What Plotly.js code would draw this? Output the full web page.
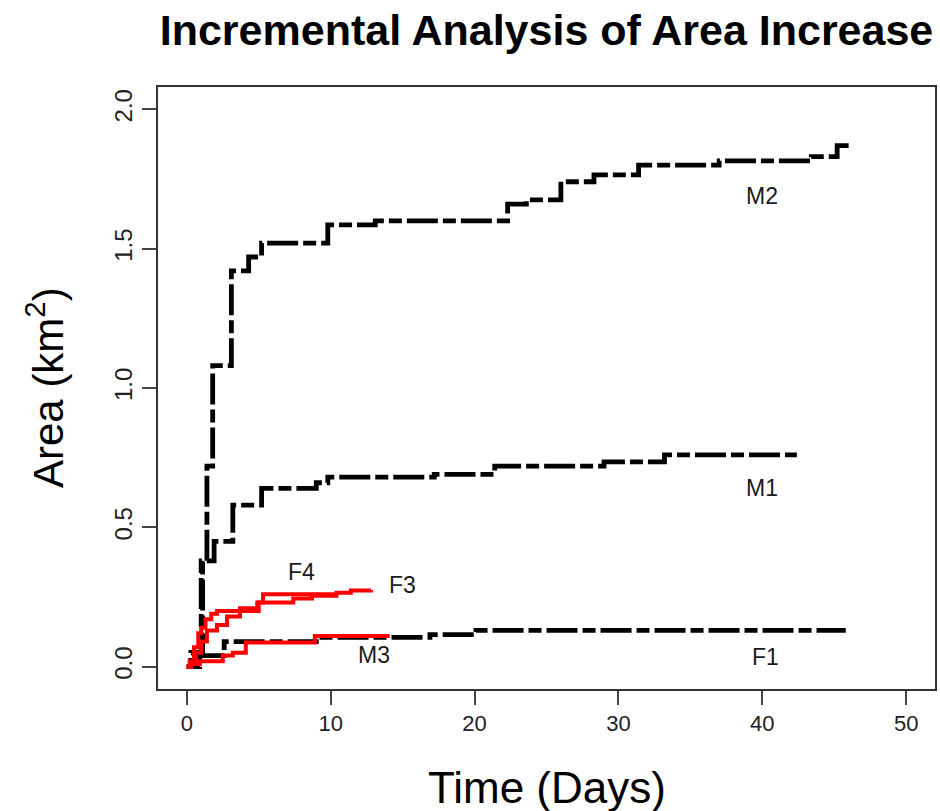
<!DOCTYPE html>
<html>
<head>
<meta charset="utf-8">
<script src="https://cdn.plot.ly/plotly-3.0.1.min.js"></script>
<style>html,body{margin:0;padding:0;background:#fff;}#chart{width:940px;height:811px;}</style>
</head>
<body>
<div id="chart"></div>
<script>
// Step data: [day at which area steps up, new cumulative area (km^2)]
const m2Days = [0, 0.3, 1.0, 1.4, 1.8, 3.1, 4.3, 5.2, 9.8, 13.1, 22.3, 23.6, 26.0, 28.3, 31.4, 37.0, 43.4, 45.2, 46.3];
const m2Area = [0, 0.05, 0.38, 0.72, 1.08, 1.42, 1.47, 1.52, 1.585, 1.60, 1.66, 1.675, 1.74, 1.765, 1.80, 1.815, 1.83, 1.87, 1.87];

const m1Days = [0, 0.3, 1.1, 1.9, 3.2, 5.2, 9.0, 9.8, 17.2, 21.4, 29.0, 33.2, 42.4];
const m1Area = [0, 0.05, 0.38, 0.45, 0.58, 0.64, 0.66, 0.68, 0.69, 0.72, 0.735, 0.76, 0.76];

const f1Days = [0, 0.9, 2.6, 9.0, 16.9, 20.1, 45.8];
const f1Area = [0, 0.04, 0.09, 0.105, 0.115, 0.13, 0.13];

const f4Days = [0, 0.2, 0.5, 0.8, 1.0, 1.3, 1.7, 2.1, 3.7, 4.9, 5.3, 10.5];
const f4Area = [0, 0.02, 0.07, 0.12, 0.14, 0.17, 0.19, 0.20, 0.21, 0.23, 0.26, 0.26];

const f3Days = [0, 0.3, 0.6, 1.0, 1.4, 2.1, 2.8, 3.7, 5.0, 7.4, 8.7, 10.4, 11.4, 12.8];
const f3Area = [0, 0.01, 0.05, 0.09, 0.13, 0.15, 0.18, 0.20, 0.23, 0.245, 0.255, 0.265, 0.273, 0.275];

const m3Days = [0, 0.3, 0.9, 2.5, 3.2, 4.1, 8.9, 14.1];
const m3Area = [0, 0.01, 0.02, 0.04, 0.05, 0.087, 0.11, 0.11];

const labelText = ["M2", "M1", "F1", "M3", "F3", "F4"];
const labelX = [40, 40, 40.2, 13, 15, 8];
const labelY = [1.69, 0.64, 0.036, 0.043, 0.294, 0.34];

const xTicks = [0, 10, 20, 30, 40, 50];
const yTicks = [0.0, 0.5, 1.0, 1.5, 2.0];
const yTickText = ["0.0", "0.5", "1.0", "1.5", "2.0"];

const titleText = "Incremental Analysis of Area Increase";
const xTitleText = "Time (Days)";
const yTitleText = "Area (km<sup>2</sup>)";

const FONT = "Liberation Sans, Arial, Helvetica, sans-serif";
const blackDash = "13px,5px,31px,5px";

function stepTrace(x, y, color, width, dash, name) {
  return {x: x, y: y, type: "scatter", mode: "lines", name: name,
          line: {shape: "hv", color: color, width: width, dash: dash},
          hoverinfo: "x+y+name"};
}

const traces = [
  stepTrace(f1Days, f1Area, "#000", 4.8, blackDash, "F1"),
  stepTrace(m1Days, m1Area, "#000", 4.8, blackDash, "M1"),
  stepTrace(m2Days, m2Area, "#000", 4.8, blackDash, "M2"),
  stepTrace(m3Days, m3Area, "#ff0000", 4, "solid", "M3"),
  stepTrace(f3Days, f3Area, "#ff0000", 4, "solid", "F3"),
  stepTrace(f4Days, f4Area, "#ff0000", 4, "solid", "F4")
];

const annotations = labelText.map((t, i) => ({
  text: t, x: labelX[i], y: labelY[i], xref: "x", yref: "y",
  showarrow: false, font: {family: FONT, size: 23, color: "#1a1a1a"}
}));
// axis titles, placed as in the reference
annotations.push({text: xTitleText, xref: "paper", yref: "paper", x: 0.5, y: 0,
  yanchor: "middle", yshift: -98, showarrow: false,
  font: {family: FONT, size: 44, color: "#000"}});
annotations.push({text: yTitleText, xref: "paper", yref: "paper", x: 0, y: 0.5,
  xanchor: "center", xshift: -113, textangle: -90, showarrow: false,
  font: {family: FONT, size: 42, color: "#000"}});

const layout = {
  width: 940, height: 811,
  paper_bgcolor: "#fff", plot_bgcolor: "#fff",
  showlegend: false,
  margin: {l: 158, r: 5, t: 87, b: 122},
  title: {text: "<b>" + titleText + "</b>",
          x: 0.5, xref: "paper", y: 1 - 30/811, yref: "container", yanchor: "middle",
          font: {family: FONT, size: 43, color: "#000"}},
  xaxis: {range: [-2, 52], tickvals: xTicks, ticktext: xTicks.map(String),
          showgrid: false, zeroline: false,
          showline: true, mirror: true, linecolor: "#333", linewidth: 2,
          ticks: "outside", ticklen: 14, tickwidth: 2, tickcolor: "#444",
          tickfont: {family: FONT, size: 22, color: "#222"}},
  yaxis: {range: [-0.08, 2.08], tickvals: yTicks, ticktext: yTickText,
          showgrid: false, zeroline: false,
          showline: true, mirror: true, linecolor: "#333", linewidth: 2,
          ticks: "outside", ticklen: 14, tickwidth: 2, tickcolor: "#444",
          tickangle: -90,
          tickfont: {family: FONT, size: 24, color: "#222"}},
  annotations: annotations
};

Plotly.newPlot("chart", traces, layout, {displayModeBar: false, staticPlot: true});
</script>
</body>
</html>
